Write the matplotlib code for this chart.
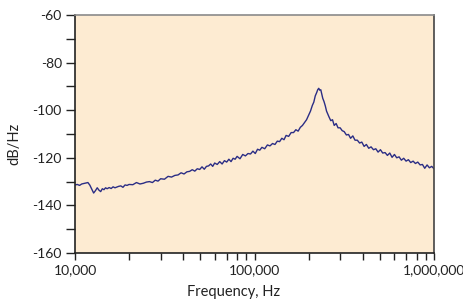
"""
Espectro de ruido (dB/Hz) frente a frecuencia, con una resonancia
cerca de 230 kHz. Guarda la figura en out.png.
"""

import matplotlib.pyplot as plt
from matplotlib.ticker import FixedLocator, FuncFormatter, NullFormatter

# Frecuencias (Hz)
freq = [
    10000, 10300, 10600, 10900, 11200, 11500, 11800, 12100, 12400, 12700,
    13000, 13300, 13600, 13900, 14200, 14500, 14800, 15100, 15500, 15900,
    16300, 16700, 17100, 17500, 18000, 18500, 19000, 19500, 20000,
    21000, 22000, 23000, 24000, 25000, 26000, 27000, 28000, 29000, 30000,
    31500, 33000, 34500, 36000, 37500, 39000, 40500, 42000, 43500, 45000,
    46500, 48000, 49500, 51000, 52500, 54000, 55500, 57000, 58500, 60000,
    62000, 64000, 66000, 68000, 70000, 72000, 74000, 76000, 78000, 80000,
    83000, 86000, 89000, 92000, 95000, 98000, 101000, 104000, 107000, 110000,
    114000, 118000, 122000, 126000, 130000, 134000, 138000, 142000, 146000,
    150000, 155000, 160000, 165000, 170000, 175000, 180000, 185000, 190000,
    195000, 200000,
    205000, 210000, 214000, 218000, 222000, 225000, 228000, 231000, 234000,
    237000, 240000, 244000, 248000, 252000, 256000, 260000,
    266000, 272000, 278000, 285000, 292000, 300000, 308000, 316000, 325000,
    334000, 343000, 353000, 363000, 374000, 385000, 396000, 408000, 420000,
    433000, 446000, 460000, 474000, 488000, 503000, 518000, 534000, 550000,
    567000, 584000, 602000, 620000, 639000, 658000, 678000, 699000, 720000,
    742000, 765000, 788000, 812000, 837000, 862000, 888000, 915000, 943000,
    971000, 1000000,
]

# Densidad espectral (dB/Hz)
psd = [
    -131.4, -131.2, -131.6, -131.0, -130.8, -130.6, -130.4, -131.5, -133.2, -134.8,
    -133.8, -132.6, -133.6, -134.2, -133.0, -133.4, -132.6, -133.0, -132.5, -132.9,
    -132.2, -132.6, -132.3, -132.0, -131.8, -132.4, -131.4, -131.6, -131.2,
    -131.3, -130.4, -131.0, -130.7, -130.2, -130.0, -130.4, -129.4, -129.8, -128.8,
    -129.0, -127.8, -128.1, -127.4, -127.2, -126.3, -126.8, -125.9, -125.7, -125.0,
    -125.6, -124.6, -124.9, -123.8, -124.8, -123.6, -123.4, -122.6, -123.6, -122.2,
    -122.8, -121.6, -122.6, -121.2, -121.8, -120.6, -121.6, -120.2, -120.6, -119.4,
    -120.4, -118.6, -119.2, -118.2, -118.4, -117.2, -118.2, -116.4, -116.8, -115.6,
    -116.2, -114.6, -115.0, -114.0, -114.4, -113.0, -113.2, -111.8, -112.4,
    -110.6, -111.0, -109.4, -109.4, -108.2, -108.8, -107.2, -106.4, -105.2,
    -104.0, -102.2,
    -100.4, -98.0, -96.6, -94.0, -92.6, -91.4, -90.8, -91.6, -91.4,
    -93.2, -95.0, -96.4, -98.2, -100.4, -101.6, -102.8,
    -104.4, -104.0, -106.4, -105.6, -107.4, -107.4, -108.6, -109.0, -110.4,
    -110.2, -111.8, -110.8, -112.6, -112.6, -113.8, -113.4, -115.2, -114.4,
    -116.0, -115.4, -116.6, -116.2, -117.6, -116.6, -118.0, -117.8, -119.0,
    -118.0, -119.8, -118.6, -120.0, -119.6, -121.0, -120.2, -121.4, -120.8,
    -122.0, -121.4, -122.4, -121.8, -123.0, -122.8, -124.4, -123.0, -124.2,
    -123.6, -124.6,
]

y_ticks = [-60, -80, -100, -120, -140, -160]
y_minor = [-70, -90, -110, -130, -150]
x_ticks = [10000, 100000, 1000000]

plt.rcParams["font.family"] = ["Lato", "DejaVu Sans"]
plt.rcParams["axes.unicode_minus"] = False

fig = plt.figure(figsize=(4.64, 3.02), dpi=100)
ax = fig.add_axes([75 / 464, 49 / 302, 359 / 464, 238 / 302])
ax.set_facecolor("#fdebd2")

# Curva del espectro
ax.plot(freq, psd, color="#2b2d85", linewidth=1.0)

ax.set_xscale("log")
ax.set_xlim(10000, 1000000)
ax.set_ylim(-160, -60)

ax.xaxis.set_major_locator(FixedLocator(x_ticks))
ax.xaxis.set_major_formatter(FuncFormatter(lambda v, p: f"{int(v):,}"))
ax.xaxis.set_minor_formatter(NullFormatter())
ax.yaxis.set_major_locator(FixedLocator(y_ticks))
ax.yaxis.set_minor_locator(FixedLocator(y_minor))

ax.tick_params(which="both", direction="out", length=5, width=1,
               colors="#222222", labelsize=10, pad=3)
ax.tick_params(axis="y", which="both", length=6.5)

# Bordes: izquierda y abajo negros, arriba gris, derecha gris oscuro
ax.spines["left"].set_color("#222222")
ax.spines["bottom"].set_color("#222222")
ax.spines["top"].set_color("#8a8a8a")
ax.spines["right"].set_color("#444444")
for s in ax.spines.values():
    s.set_linewidth(1.2)

ax.set_xlabel("Frequency, Hz", fontsize=10.5, color="#222222")
ax.xaxis.set_label_coords((234 - 75) / 359, -0.135)
ax.set_ylabel("dB/Hz", fontsize=10.5, color="#222222")
ax.yaxis.set_label_coords(-0.15, 0.46)

fig.savefig("out.png", dpi=100)
